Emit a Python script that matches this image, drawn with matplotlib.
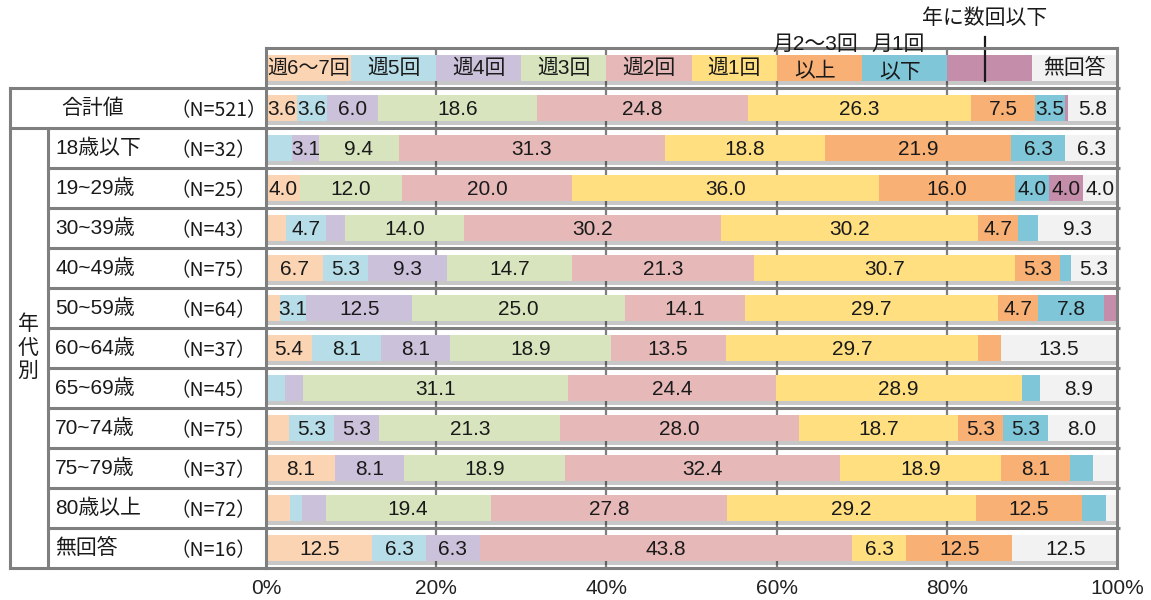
"""
Stacked 100% bar chart: frequency by age group (年代別), with table-style row labels.
"""
import matplotlib
matplotlib.use("Agg")
import matplotlib.pyplot as plt
import matplotlib.patheffects as pe
from matplotlib import font_manager
import numpy as np

_names = {f.name for f in font_manager.fontManager.ttflist}
NUM_FONT = "Liberation Sans Narrow" if "Liberation Sans Narrow" in _names else "Liberation Sans"
plt.rcParams["font.family"] = [NUM_FONT, "Noto Sans CJK JP", "DejaVu Sans"]

categories = ["週6～7回", "週5回", "週4回", "週3回", "週2回", "週1回",
              "月2～3回以上", "月1回以下", "年に数回以下", "無回答"]
colors = ["#FBD4B4", "#B7DEE8", "#CCC1DA", "#D7E4BD", "#E6B9B8",
          "#FFDF80", "#F9B074", "#7EC6D8", "#C48DAA", "#F2F2F2"]

groups = ["合計値", "18歳以下", "19~29歳", "30~39歳", "40~49歳", "50~59歳",
          "60~64歳", "65~69歳", "70~74歳", "75~79歳", "80歳以上", "無回答"]
n_labels = ["（N=521）", "（N=32）", "（N=25）", "（N=43）", "（N=75）", "（N=64）",
            "（N=37）", "（N=45）", "（N=75）", "（N=37）", "（N=72）", "（N=16）"]

# percentages per row, in category order
shares = [
    [3.6, 3.6, 6.0, 18.6, 24.8, 26.3, 7.5, 3.5, 0.3, 5.8],
    [0.0, 3.1, 3.1, 9.4, 31.3, 18.8, 21.9, 6.3, 0.0, 6.3],
    [4.0, 0.0, 0.0, 12.0, 20.0, 36.0, 16.0, 4.0, 4.0, 4.0],
    [2.3, 4.7, 2.3, 14.0, 30.2, 30.2, 4.7, 2.3, 0.0, 9.3],
    [6.7, 5.3, 9.3, 14.7, 21.3, 30.7, 5.3, 1.3, 0.0, 5.3],
    [1.6, 3.1, 12.5, 25.0, 14.1, 29.7, 4.7, 7.8, 1.6, 0.0],
    [5.4, 8.1, 8.1, 18.9, 13.5, 29.7, 2.7, 0.0, 0.0, 13.5],
    [0.0, 2.2, 2.2, 31.1, 24.4, 28.9, 0.0, 2.2, 0.0, 8.9],
    [2.7, 5.3, 5.3, 21.3, 28.0, 18.7, 5.3, 5.3, 0.0, 8.0],
    [8.1, 0.0, 8.1, 18.9, 32.4, 18.9, 8.1, 2.7, 0.0, 2.7],
    [2.8, 1.4, 2.8, 19.4, 27.8, 29.2, 12.5, 2.8, 0.0, 1.4],
    [12.5, 6.3, 6.3, 0.0, 43.8, 6.3, 12.5, 0.0, 0.0, 12.5],
]
# (row, category) cells the original leaves unlabeled
unlabeled = {(1, 1)}

legend_inside = ["週6～7回", "週5回", "週4回", "週3回", "週2回", "週1回",
                 "以上", "以下", "", "無回答"]

GRID = "#7F7F7F"
INK = "#1A1A1A"
FS = 15

fig = plt.figure(figsize=(11.51, 6.0), dpi=100)
ax = fig.add_axes([266 / 1151, 32 / 600, 851 / 1151, 520 / 600])

vals = np.array(shares)
ypos = np.arange(len(groups))
shadow = [pe.SimplePatchShadow(offset=(1, -3), shadow_rgbFace="#000000", alpha=0.22), pe.Normal()]
H = 0.64

# grid lines behind the bars
ax.vlines([20, 40, 60, 80], -1.5, 11.5, color=GRID, lw=1.6, zorder=0)
# row separators
for y in np.arange(-0.5, len(groups) - 0.5):
    ax.plot([0, 1.004], [y, y], color=GRID, lw=2.2, zorder=1,
            transform=ax.get_yaxis_transform(), clip_on=False, solid_capstyle="butt")

left = np.zeros(len(groups))
for j, (cat, col) in enumerate(zip(categories, colors)):
    bars = ax.barh(ypos, vals[:, j], left=left, height=H, color=col,
                   edgecolor="none", zorder=2)
    for b in bars:
        b.set_path_effects(shadow)
    for i, v in enumerate(vals[:, j]):
        if v >= 3.0 and (i, j) not in unlabeled:
            ax.text(left[i] + v / 2, i + 0.03, f"{v:.1f}", ha="center", va="center",
                    fontsize=FS, color=INK, zorder=3)
    left += vals[:, j]

# legend drawn as a bar row at the top
for j, col in enumerate(colors):
    b = ax.barh(-1, 10, left=10 * j, height=H, color=col, edgecolor="none", zorder=2)
    b[0].set_path_effects(shadow)
    txt = legend_inside[j]
    if txt:
        dy = 0.1 if txt in ("以上", "以下") else 0.0
        ax.text(10 * j + 5 - (0.5 if j in (6, 7) else 0), -1 + dy, txt, ha="center",
                va="center", fontsize=FS if j else 14.5, color=INK, zorder=3)
ax.text(64.5, -1.6, "月2～3回", ha="center", va="center", fontsize=FS,
        color=INK, clip_on=False, zorder=6)
ax.text(74.3, -1.6, "月1回", ha="center", va="center", fontsize=FS,
        color=INK, clip_on=False, zorder=6)
ax.text(84.5, -2.25, "年に数回以下", ha="center", va="center", fontsize=FS,
        color=INK, clip_on=False, zorder=6)
ax.plot([84.5, 84.5], [-1.77, -0.68], color=INK, lw=1.6, clip_on=False, zorder=4)

ax.set_xlim(0, 100)
ax.set_ylim(11.5, -1.5)
ax.set_yticks([])
ax.set_xticks([0, 20, 40, 60, 80, 100])
ax.set_xticklabels([f"{t}%" for t in [0, 20, 40, 60, 80, 100]], fontsize=FS, color="#222222")
ax.tick_params(axis="x", length=0, pad=8)
for s in ax.spines.values():
    s.set_color(GRID)
    s.set_linewidth(2.2)
    s.set_zorder(5)

# table on the left
tr = ax.get_yaxis_transform()
x0 = (10 - 266) / 851
x1 = (48 - 266) / 851
kw = dict(color=GRID, lw=2.2, transform=tr, clip_on=False, solid_capstyle="projecting")
ax.plot([x0, x0], [-0.5, 11.5], **kw)
ax.plot([x0, 0], [11.5, 11.5], **kw)
ax.plot([x0, 0], [-0.5, -0.5], **kw)
ax.plot([x0, 0], [0.5, 0.5], **kw)
ax.plot([x1, x1], [0.5, 11.5], **kw)
for y in np.arange(1.5, len(groups) - 0.5):
    ax.plot([x1, 0], [y, y], **kw)

ax.text((93 - 266) / 851, 0, groups[0], transform=tr, ha="center", va="center",
        fontsize=FS, color=INK)
for i in range(1, len(groups)):
    ax.text((55 - 266) / 851, i, groups[i], transform=tr, ha="left", va="center",
            fontsize=FS, color=INK)
for i in range(len(groups)):
    ax.text((171 - 266) / 851, i + 0.06, n_labels[i], transform=tr, ha="left", va="center",
            fontsize=14, color=INK, family=["Noto Sans CJK JP", "DejaVu Sans"])
ax.text((28 - 266) / 851, 6.0, "年\n代\n別", transform=tr, ha="center", va="center",
        fontsize=FS, color=INK, linespacing=1.3)

fig.savefig("out.png", dpi=100)
